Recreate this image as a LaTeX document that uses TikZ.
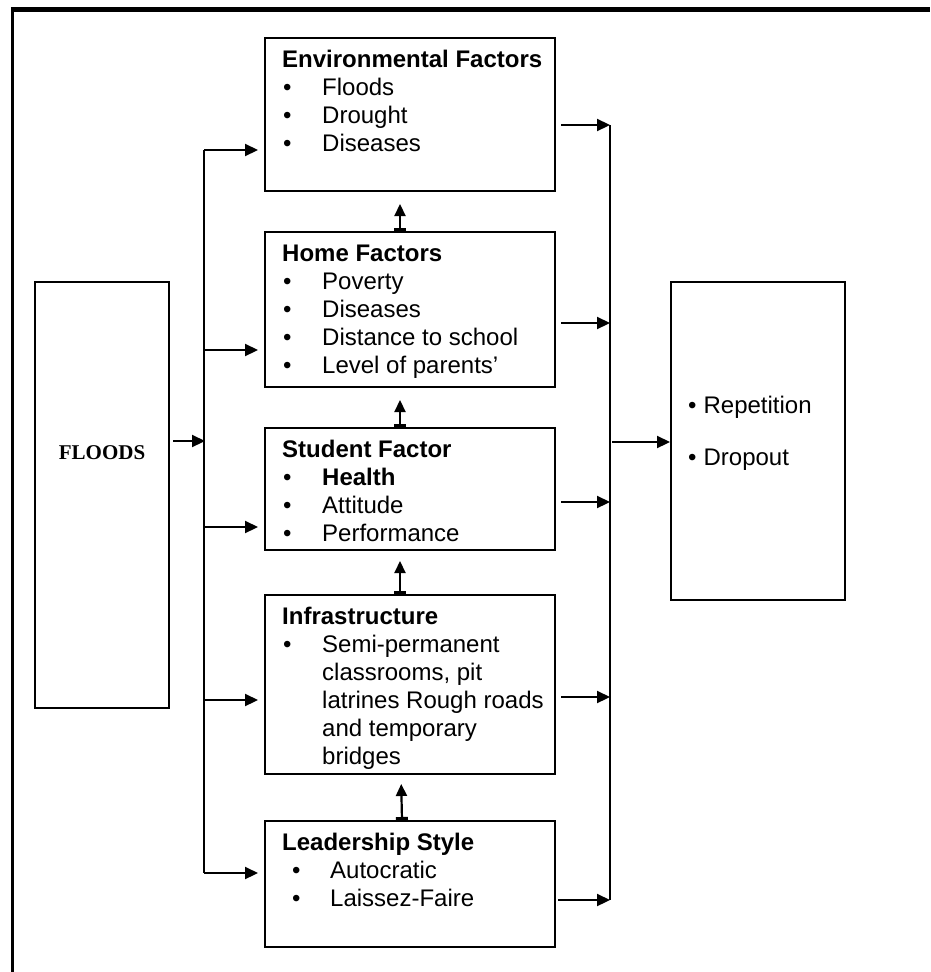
\documentclass[tikz,border=0pt]{standalone}
\usepackage{fontspec}
\setmainfont{Liberation Sans}
\newfontfamily\serifb{Liberation Serif}
\usetikzlibrary{arrows.meta}
\begin{document}
\begin{tikzpicture}[x=1pt,y=-1pt,
  box/.style={draw, line width=2pt, inner sep=0pt, minimum width=290pt},
  txt/.style={anchor=base west, inner sep=0pt, font=\fontsize{24}{28}\selectfont},
  arr/.style={line width=2.2pt, -{Triangle[length=13pt,width=12pt]}},
  dbl/.style={line width=2.2pt, {Bar[width=12pt,line width=3pt]}-{Triangle[length=12pt,width=11pt]}},
  bus/.style={line width=2pt}]
\useasboundingbox (0,0) rectangle (930,972);
% frame
\draw[line width=4.5pt] (10.75,9.5) -- (930,9.5);
\draw[line width=3.5pt] (12.5,7.25) -- (12.5,972);
% boxes
\node[box, minimum height=153pt] (env) at (410,114.5) {};
\node[box, minimum height=155pt] (home) at (410,309.5) {};
\node[box, minimum height=122pt] (stud) at (410,489) {};
\node[box, minimum height=179pt] (infra) at (410,684.5) {};
\node[box, minimum height=126pt] (lead) at (410,884) {};
\node[box, minimum width=134pt, minimum height=426pt] (floods) at (102,495) {};
\node[box, minimum width=174pt, minimum height=318pt] (out) at (758,441) {};
% texts: environmental
\node[txt] (e0) at (282,67) {\bfseries Environmental Factors};
\node[txt] (e1b) at (283,95) {•};\node[txt] (e1) at (322,95) {Floods};
\node[txt] (e2b) at (283,123) {•};\node[txt] (e2) at (322,123) {Drought};
\node[txt] (e3b) at (283,151) {•};\node[txt] (e3) at (322,151) {Diseases};
% home
\node[txt] (h0) at (282,261) {\bfseries Home Factors};
\node[txt] (h1b) at (283,289) {•};\node[txt] (h1) at (322,289) {Poverty};
\node[txt] (h2b) at (283,317) {•};\node[txt] (h2) at (322,317) {Diseases};
\node[txt] (h3b) at (283,345) {•};\node[txt] (h3) at (322,345) {Distance to school};
\node[txt] (h4b) at (283,373) {•};\node[txt] (h4) at (322,373) {Level of parents’};
% student
\node[txt] (s0) at (282,457) {\bfseries Student Factor};
\node[txt] (s1b) at (283,485) {•};\node[txt] (s1) at (322,485) {\bfseries Health};
\node[txt] (s2b) at (283,513) {•};\node[txt] (s2) at (322,513) {Attitude};
\node[txt] (s3b) at (283,541) {•};\node[txt] (s3) at (322,541) {Performance};
% infrastructure
\node[txt] (i0) at (282,624) {\bfseries Infrastructure};
\node[txt] (i1b) at (283,652) {•};\node[txt] (i1) at (322,652) {Semi-permanent};
\node[txt] (i2) at (322,680) {classrooms, pit};
\node[txt] (i3) at (322,708) {latrines Rough roads};
\node[txt] (i4) at (322,736) {and temporary};
\node[txt] (i5) at (322,764) {bridges};
% leadership
\node[txt] (l0) at (282,850) {\bfseries Leadership Style};
\node[txt] (l1b) at (292,878) {•};\node[txt] (l1) at (330,878) {Autocratic};
\node[txt] (l2b) at (292,906) {•};\node[txt] (l2) at (330,906) {Laissez-Faire};
% floods
\node[anchor=base, inner sep=0pt, font=\serifb\bfseries\fontsize{21}{24}\selectfont] (ft) at (102,459) {FLOODS};
% outcomes
\node[txt] (o1) at (688,413) {•\hspace{7pt}Repetition};
\node[txt] (o2) at (688,465) {•\hspace{7pt}Dropout};
% left bus
\coordinate (L1) at (204,150);
\coordinate (L2) at (204,350);
\coordinate (L3) at (204,527);
\coordinate (L4) at (204,700);
\coordinate (L5) at (204,873);
\coordinate (Lin) at (205,441);
\draw[bus] (L1) -- (L5);
\draw[arr, shorten >=6pt] (L1) -- (L1 -| env.west);
\draw[arr, shorten >=6pt] (L2) -- (L2 -| home.west);
\draw[arr, shorten >=6pt] (L3) -- (L3 -| stud.west);
\draw[arr, shorten >=6pt] (L4) -- (L4 -| infra.west);
\draw[arr, shorten >=6pt] (L5) -- (L5 -| lead.west);
\draw[arr, shorten <=3pt] (floods.east |- Lin) -- (Lin);
% right bus
\coordinate (R1) at (610,125);
\coordinate (R2) at (610,323);
\coordinate (R3) at (610,502);
\coordinate (R4) at (610,697);
\coordinate (R5) at (610,900);
\coordinate (Rout) at (612,442);
\draw[bus] (R1) -- (R5);
\draw[arr, shorten <=5pt] (env.east |- R1) -- (R1);
\draw[arr, shorten <=5pt] (home.east |- R2) -- (R2);
\draw[arr, shorten <=5pt] (stud.east |- R3) -- (R3);
\draw[arr, shorten <=5pt] (infra.east |- R4) -- (R4);
\draw[arr, shorten <=2pt] (lead.east |- R5) -- (R5);
\draw[arr] (Rout) -- (Rout -| out.west);
% vertical double arrows
\draw[dbl, shorten >=12pt] ([xshift=-10pt]home.north) -- ([xshift=-10pt]env.south);
\draw[dbl, shorten >=12pt] ([xshift=-10pt]stud.north) -- ([xshift=-10pt]home.south);
\draw[dbl, shorten >=10pt] ([xshift=-10pt]infra.north) -- ([xshift=-10pt]stud.south);
\draw[dbl, shorten >=9pt] ([xshift=-8pt]lead.north) -- ([xshift=-9pt]infra.south);
\end{tikzpicture}
\end{document}
